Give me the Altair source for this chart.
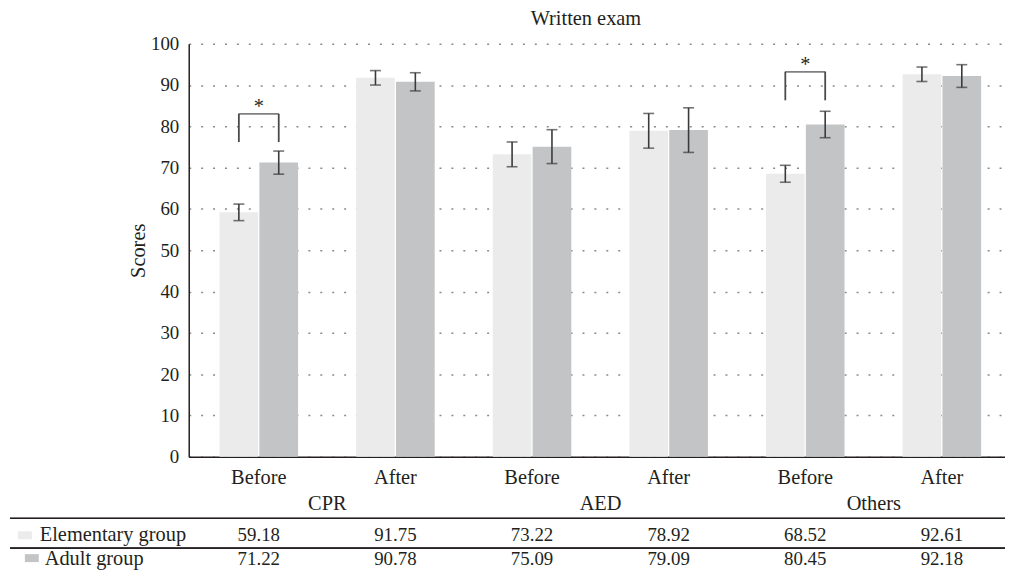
import altair as alt
import pandas as pd

# ---------------- data ----------------
chart_title = ["Written exam"]
conditions = ["CPR|Before", "CPR|After", "AED|Before", "AED|After", "Others|Before", "Others|After"]
topics = ["CPR", "AED", "Others"]
groups = ["Elementary group", "Adult group"]
elementary = [59.18, 91.75, 73.22, 78.92, 68.52, 92.61]
adult = [71.22, 90.78, 75.09, 79.09, 80.45, 92.18]
elementary_err = [2.0, 1.75, 3.0, 4.2, 2.05, 1.75]
adult_err = [2.8, 2.2, 4.1, 5.4, 3.2, 2.75]
bracket_conditions = ["CPR|Before", "Others|Before"]
bracket_top = [83.0, 93.2]
bracket_leg = [76.2, 86.3]
y_ticks = [0, 10, 20, 30, 40, 50, 60, 70, 80, 90, 100]

# ---------------- styles ----------------
FONT = "Liberation Serif"
FS = 19
FSW = 20.5
TXT = "#231f20"
COLORS = ["#ebebec", "#c3c4c6"]

rows = []
for gname, vals, errs in [(groups[0], elementary, elementary_err), (groups[1], adult, adult_err)]:
    for c, v, e in zip(conditions, vals, errs):
        rows.append({"cond": c, "group": gname, "value": v, "lo": v - e, "hi": v + e})
df = pd.DataFrame(rows)

br_rows = []
for c, t, l in zip(bracket_conditions, bracket_top, bracket_leg):
    for gname in groups:
        br_rows.append({"cond": c, "group": gname, "top": t, "leg": l})
df_br = pd.DataFrame(br_rows)
df_star = pd.DataFrame({"cond": bracket_conditions, "top": bracket_top, "star": ["*", "*"]})
df_topic = pd.DataFrame({"cond": [t + "|Before" for t in topics], "topic": topics})
df_title = pd.DataFrame({"title": chart_title})

xscale = alt.Scale(domain=conditions, paddingInner=0.425, paddingOuter=0.2, align=0.5634)
oscale = alt.Scale(domain=groups, paddingInner=0.03)
yscale = alt.Scale(domain=[0, 100], nice=False)
cscale = alt.Scale(domain=groups, range=COLORS)

X = alt.X("cond:N", scale=xscale, sort=conditions,
          axis=alt.Axis(title=None, labelExpr="split(datum.label, '|')[1]", labelAngle=0,
                        ticks=False, domainColor=TXT, domainWidth=1.5, labelPadding=11,
                        labelFont=FONT, labelFontSize=FSW, labelColor=TXT))
XO = alt.XOffset("group:N", scale=oscale, sort=groups)
Y = alt.Y("value:Q", scale=yscale,
          axis=alt.Axis(title="Scores", values=y_ticks, ticks=False, domainColor=TXT, domainWidth=1.5,
                        grid=True, gridDash=[2, 10], gridColor="#8a8a8a", gridWidth=1.5,
                        labelPadding=10, labelFont=FONT, labelFontSize=FS, labelColor=TXT,
                        titleFont=FONT, titleFontSize=FSW, titleFontWeight="normal", titleColor=TXT,
                        titlePadding=2))

base = alt.Chart(df)

bars = base.mark_bar().encode(
    x=X, xOffset=XO, y=Y,
    color=alt.Color("group:N", scale=cscale, legend=None),
)
err_rule = base.mark_rule(color="#3a3a3a", strokeWidth=1.6).encode(
    x=alt.X("cond:N", scale=xscale, sort=conditions), xOffset=XO,
    y=alt.Y("lo:Q", scale=yscale), y2="hi:Q")
cap_hi = base.mark_tick(color="#3a3a3a", thickness=1.6, size=11).encode(
    x=alt.X("cond:N", scale=xscale, sort=conditions), xOffset=XO,
    y=alt.Y("hi:Q", scale=yscale))
cap_lo = base.mark_tick(color="#3a3a3a", thickness=1.6, size=11).encode(
    x=alt.X("cond:N", scale=xscale, sort=conditions), xOffset=XO,
    y=alt.Y("lo:Q", scale=yscale))

br_legs = alt.Chart(df_br).mark_rule(color="#4a4a4a", strokeWidth=1.8).encode(
    x=alt.X("cond:N", scale=xscale, sort=conditions), xOffset=XO,
    y=alt.Y("leg:Q", scale=yscale), y2="top:Q")
br_top = alt.Chart(df_star).mark_tick(color="#4a4a4a", thickness=1.8, size=41).encode(
    x=alt.X("cond:N", scale=xscale, sort=conditions),
    y=alt.Y("top:Q", scale=yscale))
stars = alt.Chart(df_star).mark_text(font=FONT, fontSize=FSW, color=TXT, baseline="alphabetic", dy=-1).encode(
    x=alt.X("cond:N", scale=xscale, sort=conditions),
    y=alt.Y("top:Q", scale=yscale), text="star:N")

title_text = alt.Chart(df_title).mark_text(font=FONT, fontSize=FSW, color=TXT, baseline="alphabetic").encode(
    x=alt.value(400), y=alt.value(-19), text="title:N")

# ---------------- table below the chart ----------------
topic_text = alt.Chart(df_topic).mark_text(font=FONT, fontSize=FSW, color=TXT, baseline="alphabetic", dx=69).encode(
    x=alt.X("cond:N", scale=xscale, sort=conditions), y=alt.value(470), text="topic:N")

line_a = alt.Chart(df_topic).mark_rule(color=TXT, strokeWidth=1.3).encode(
    x=alt.value(-180), x2=alt.value(822), y=alt.value(478))
line_b = alt.Chart(df_topic).mark_rule(color=TXT, strokeWidth=1.3).encode(
    x=alt.value(-180), x2=alt.value(822), y=alt.value(508))

df_e = df[df["group"] == groups[0]]
df_a = df[df["group"] == groups[1]]
vals_e = alt.Chart(df_e).mark_text(font=FONT, fontSize=FS, color=TXT, baseline="alphabetic").encode(
    x=alt.X("cond:N", scale=xscale, sort=conditions), y=alt.value(501),
    text=alt.Text("value:Q", format=".2f"))
vals_a = alt.Chart(df_a).mark_text(font=FONT, fontSize=FS, color=TXT, baseline="alphabetic").encode(
    x=alt.X("cond:N", scale=xscale, sort=conditions), y=alt.value(525),
    text=alt.Text("value:Q", format=".2f"))

df_leg = pd.DataFrame({"group": groups})
lab_e = alt.Chart(df_leg.iloc[[0]]).mark_text(font=FONT, fontSize=FSW, color=TXT, align="left", baseline="alphabetic").encode(
    x=alt.value(-150), y=alt.value(501), text="group:N")
lab_a = alt.Chart(df_leg.iloc[[1]]).mark_text(font=FONT, fontSize=FSW, color=TXT, align="left", baseline="alphabetic").encode(
    x=alt.value(-145), y=alt.value(525), text="group:N")
sw_e = alt.Chart(df_leg.iloc[[0]]).mark_rect().encode(
    x=alt.value(-172), x2=alt.value(-158), y=alt.value(491), y2=alt.value(499),
    color=alt.Color("group:N", scale=cscale, legend=None))
sw_a = alt.Chart(df_leg.iloc[[1]]).mark_rect().encode(
    x=alt.value(-165), x2=alt.value(-151), y=alt.value(514), y2=alt.value(522),
    color=alt.Color("group:N", scale=cscale, legend=None))

chart = alt.layer(
    bars, err_rule, cap_hi, cap_lo, br_legs, br_top, stars, title_text,
    topic_text, line_a, line_b, vals_e, vals_a, lab_e, lab_a, sw_e, sw_a,
).properties(
    width=822, height=416,
    autosize=alt.AutoSizeParams(type="none"),
    padding={"left": 182, "top": 34, "right": 0, "bottom": 114},
).configure_view(stroke=None)

chart.save("out.html", embed_options={"renderer": "svg", "actions": False})
